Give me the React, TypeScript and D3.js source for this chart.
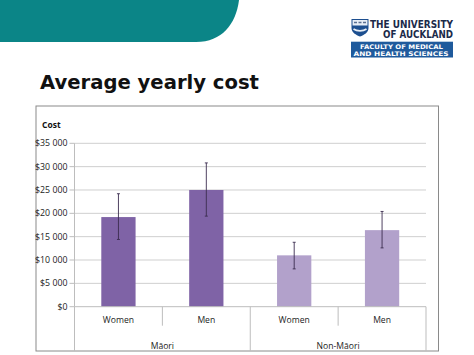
import React from "react";
import * as d3 from "d3";

const categories = ["Women", "Men", "Women", "Men"];
const groups = ["Māori", "Non-Māori"];
const groupOf = [0, 0, 1, 1];
const values = [19200, 25000, 11000, 16400];
const errLow = [14400, 19400, 8100, 12600];
const errHigh = [24200, 30800, 13800, 20400];
const yTicks = [0, 5000, 10000, 15000, 20000, 25000, 30000, 35000];
const barColors = ["#7f63a6", "#b2a1cb"];

const W = 474;
const H = 355;

export default function App() {
  const plotL = 74.5;
  const plotR = 426;
  const plotT = 143.3;
  const plotB = 306.7;
  const frameB = 351;

  const y = d3.scaleLinear().domain([0, 35000]).range([plotB, plotT]);
  const idx = categories.map((_, i) => String(i));
  const x = d3
    .scaleBand<string>()
    .domain(idx)
    .range([plotL, plotR])
    .paddingInner(0.61)
    .paddingOuter(0.305);
  const step = x.step();
  const fmt = (v: number) =>
    "$" + (v >= 1000 ? `${Math.floor(v / 1000)} ${String(v % 1000).padStart(3, "0")}` : String(v));

  const sans = "'Open Sans', 'DejaVu Sans', sans-serif";

  return (
    <svg
      width={W}
      height={H}
      viewBox={`0 0 ${W} ${H}`}
      style={{ position: "absolute", left: 0, top: 0, background: "#fff" }}
    >
      <rect x={0} y={0} width={W} height={H} fill="#fff" />
      {/* teal banner */}
      <path d="M0,0 H239 C236,24 222,42 196,42 H0 Z" fill="#0b8587" />

      {/* logo */}
      <g>
        <path
          d="M351.5,19 H368.5 V28 C368.5,32.5 364,35 360,36.5 C356,35 351.5,32.5 351.5,28 Z"
          fill="#1d4f8f"
        />
        <rect x={352.5} y={20} width={15} height={5.5} fill="#e8eef6" />
        <path d="M354,22.5 h3 M358.5,22.5 h3 M363,22.5 h3" stroke="#5a6f91" strokeWidth={1.6} />
        <path d="M353.5,29 C357,31.5 363,31.5 366.5,29" stroke="#e8eef6" strokeWidth={1.6} fill="none" />
        <text x={370} y={27.5} fontFamily="'DejaVu Sans', sans-serif" fontSize={9.6} fontWeight={700} fill="#1b2a4a" textLength={83} lengthAdjust="spacingAndGlyphs">
          THE UNIVERSITY
        </text>
        <text x={383} y={38.3} fontFamily="'DejaVu Sans', sans-serif" fontSize={9.6} fontWeight={700} fill="#1b2a4a" textLength={70} lengthAdjust="spacingAndGlyphs">
          OF AUCKLAND
        </text>
        <rect x={351} y={41.7} width={102} height={15.8} fill="#1f5a9c" />
        <text x={360} y={49.2} fontFamily="'DejaVu Sans', sans-serif" fontSize={6.3} fontWeight={700} fill="#fff" textLength={83} lengthAdjust="spacingAndGlyphs">
          FACULTY OF MEDICAL
        </text>
        <text x={353.5} y={55.6} fontFamily="'DejaVu Sans', sans-serif" fontSize={6.3} fontWeight={700} fill="#fff" textLength={95} lengthAdjust="spacingAndGlyphs">
          AND HEALTH SCIENCES
        </text>
      </g>

      {/* title */}
      <text x={40} y={88.5} fontFamily="'DejaVu Sans', Verdana, sans-serif" fontSize={20} fontWeight={700} fill="#111" textLength={219} lengthAdjust="spacingAndGlyphs">
        Average yearly cost
      </text>

      {/* chart frame */}
      <rect x={36} y={106} width={402.5} height={frameB - 106} fill="#fff" stroke="#8a8a8a" strokeWidth={1} />

      <text x={42} y={127.5} fontFamily={sans} fontSize={8.5} fontWeight={700} fill="#111">
        Cost
      </text>

      {/* gridlines */}
      {yTicks.map((t) => (
        <g key={t}>
          {t > 0 && (
            <line x1={plotL} x2={plotR} y1={y(t)} y2={y(t)} stroke="#cfcfcf" strokeWidth={1} />
          )}
          <line x1={plotL - 5} x2={plotL} y1={y(t)} y2={y(t)} stroke="#bdbdbd" strokeWidth={1} />
          <text x={plotL - 7} y={y(t)} dy="0.35em" textAnchor="end" fontFamily={sans} fontSize={8.8} fill="#222">
            {fmt(t)}
          </text>
        </g>
      ))}
      <line x1={plotL} x2={plotL} y1={plotT} y2={plotB} stroke="#bdbdbd" strokeWidth={1} />

      {/* bars */}
      {values.map((v, i) => {
        const bx = x(String(i))!;
        const cx = bx + x.bandwidth() / 2;
        return (
          <g key={i}>
            <rect x={bx} y={y(v)} width={x.bandwidth()} height={plotB - y(v)} fill={barColors[groupOf[i]]} />
            <line x1={cx} x2={cx} y1={y(errHigh[i])} y2={y(errLow[i])} stroke="#3b2d4f" strokeWidth={0.9} />
            <line x1={cx - 1.5} x2={cx + 1.5} y1={y(errHigh[i])} y2={y(errHigh[i])} stroke="#3b2d4f" strokeWidth={0.9} />
            <line x1={cx - 1.5} x2={cx + 1.5} y1={y(errLow[i])} y2={y(errLow[i])} stroke="#3b2d4f" strokeWidth={0.9} />
          </g>
        );
      })}

      {/* category axis */}
      <line x1={plotL} x2={plotR} y1={plotB} y2={plotB} stroke="#bdbdbd" strokeWidth={1} />
      {d3.range(categories.length + 1).map((k) => {
        const xx = plotL + k * step;
        const long = k % 2 === 0;
        return (
          <line key={k} x1={xx} x2={xx} y1={plotB} y2={long ? frameB : plotB + 19} stroke="#bdbdbd" strokeWidth={1} />
        );
      })}
      {categories.map((c, i) => (
        <text key={i} x={x(String(i))! + x.bandwidth() / 2} y={322.5} textAnchor="middle" fontFamily={sans} fontSize={8.6} fill="#222">
          {c}
        </text>
      ))}
      {groups.map((g, gi) => (
        <text key={g} x={plotL + step * (2 * gi + 1)} y={348.5} textAnchor="middle" fontFamily={sans} fontSize={8.6} fill="#222">
          {g}
        </text>
      ))}
    </svg>
  );
}
